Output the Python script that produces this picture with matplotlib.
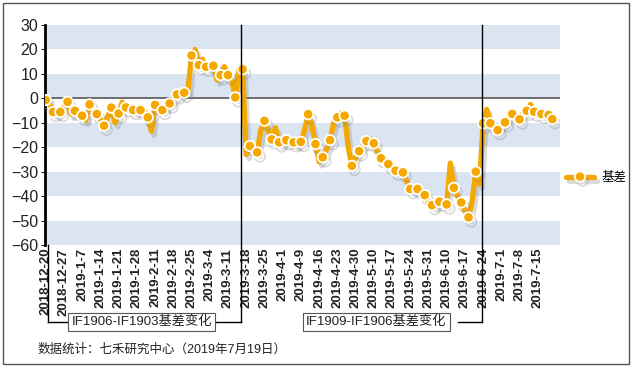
import numpy as np
import matplotlib
matplotlib.use("Agg")
import matplotlib.pyplot as plt
import matplotlib.patheffects as pe
from matplotlib.patches import Rectangle
import matplotlib.transforms as mtransforms

plt.rcParams['font.family'] = ['Liberation Sans', 'Noto Sans CJK SC', 'DejaVu Sans']

# daily basis (trading days from 2018-12-20 to 2019-7-19)
basis = [
    -0.7, -2.0, -5.6, -6.5, -5.6, -3.5, -1.4, -6.5, -5.1, -6.8,
    -7.1, -9.0, -2.5, -5.0, -6.4, -8.5, -11.2, -7.5, -3.8, -10.0,
    -6.2, -1.5, -3.7, -4.5, -4.8, -5.2, -4.8, -5.0, -7.8, -13.5,
    -2.7, -4.0, -4.8, -3.5, -2.1, -0.5, 1.6, 1.8, 2.3, 3.0,
    17.5, 20.0, 13.6, 16.0, 12.9, 12.5, 13.3, 7.5, 9.5, 13.0,
    9.5, 8.0, 0.4, 12.0, 11.9, -23.0, -19.5, -20.5, -22.1, -13.0,
    -9.2, -13.0, -16.8, -12.0, -18.0, -18.5, -17.1, -18.0, -18.0, -19.0,
    -17.8, -13.0, -6.5, -11.0, -18.7, -26.0, -24.1, -21.0, -17.1, -10.0,
    -7.8, -6.0, -7.1, -20.0, -27.6, -24.0, -21.6, -19.5, -17.5, -16.5,
    -18.4, -22.0, -24.5, -25.5, -26.9, -28.5, -29.6, -30.0, -30.3, -34.0,
    -37.1, -37.5, -37.1, -38.5, -39.6, -42.0, -43.7, -44.0, -42.3, -43.0,
    -43.4, -26.5, -36.6, -40.0, -42.6, -46.0, -48.7, -42.0, -30.0, -35.0,
    -10.2, -4.5, -10.2, -11.0, -13.0, -11.0, -9.8, -7.5, -6.4, -8.0,
    -8.6, -6.0, -5.1, -2.5, -5.5, -6.0, -6.4, -6.5, -6.8, -8.5,
]

tick_labels = [
    "2018-12-20", "2018-12-27", "2019-1-7", "2019-1-14", "2019-1-21",
    "2019-1-28", "2019-2-11", "2019-2-18", "2019-2-25", "2019-3-4",
    "2019-3-11", "2019-3-18", "2019-3-25", "2019-4-1", "2019-4-9",
    "2019-4-16", "2019-4-23", "2019-4-30", "2019-5-10", "2019-5-17",
    "2019-5-24", "2019-5-31", "2019-6-10", "2019-6-17", "2019-6-24",
    "2019-7-1", "2019-7-8", "2019-7-15",
]
tick_step = 5

# contract switch points (index between trading days)
switch_points = [53.5, 119.6]
period_labels = ["IF1906-IF1903基差变化", "IF1909-IF1906基差变化"]

orange = "#F5A800"
band = "#DAE5F1"

fig = plt.figure(figsize=(6.32, 3.67), dpi=100)
ax = fig.add_axes([45 / 632, 1 - 245 / 367, 515 / 632, 220 / 367])

x = np.arange(len(basis))
ax.set_xlim(-0.2, 141.1)
ax.set_ylim(-60, 30)

for lo in range(-60, 30, 20):
    ax.axhspan(lo, lo + 10, color=band, lw=0, zorder=0)
ax.axhline(0, color="#555555", lw=1.2, zorder=1)

marks = list(range(0, len(basis), 2)) + [len(basis) - 1]
line, = ax.plot(x, basis, color=orange, lw=3.8, marker="o", markersize=7.5,
                markerfacecolor=orange, markeredgecolor="white", markeredgewidth=1.3,
                markevery=marks, zorder=3, label="基差",
                solid_joinstyle="round", solid_capstyle="round")
line.set_path_effects([pe.SimpleLineShadow(offset=(2, -3), shadow_color="#888888", alpha=0.3),
                       pe.Normal()])

ax.set_xticks(x[::tick_step][:len(tick_labels)])
ax.set_xticklabels(tick_labels, rotation=90, fontsize=9.5, fontweight="bold", color="#222222")
ax.tick_params(axis="x", length=0, pad=2)
ax.set_yticks(range(-60, 31, 10))
ax.tick_params(axis="y", labelsize=11.5, length=3, pad=2, colors="#222222")

for s in ["top", "right", "bottom"]:
    ax.spines[s].set_visible(False)
ax.spines["left"].set_linewidth(2)
ax.spines["left"].set_color("black")

# brackets under the axis
trans = mtransforms.blended_transform_factory(ax.transData, ax.transAxes)
yb = -0.35
ax.plot([switch_points[0], switch_points[0]], [1, yb], color="black", lw=1, transform=trans, clip_on=False, zorder=4)
ax.plot([switch_points[1], switch_points[1]], [1, yb], color="black", lw=1, transform=trans, clip_on=False, zorder=4)
ax.plot([0.5, 0.5], [0, yb], color="black", lw=1, transform=trans, clip_on=False)
ax.plot([0.5, 6.2], [yb, yb], color="black", lw=1, transform=trans, clip_on=False)
ax.plot([46.5, switch_points[0]], [yb, yb], color="black", lw=1, transform=trans, clip_on=False)
ax.plot([113, switch_points[1]], [yb, yb], color="black", lw=1, transform=trans, clip_on=False)

box = dict(boxstyle="square,pad=0.25", facecolor="white", edgecolor="#555555", lw=0.8)
ax.text(26.4, yb, period_labels[0], transform=trans, ha="center", va="center",
        fontsize=9.5, bbox=box, color="#222222")
ax.text(90.7, yb, period_labels[1], transform=trans, ha="center", va="center",
        fontsize=9.5, bbox=box, color="#222222")

fig.legend(handles=[line], labels=["基差"], loc="center left",
           bbox_to_anchor=(555 / 632, 1 - 178 / 367), frameon=False,
           fontsize=9, handlelength=2.2, handletextpad=0.6)

fig.text(38 / 632, 1 - 350 / 367, "数据统计：七禾研究中心（2019年7月19日）",
         fontsize=9, va="center", ha="left", color="#222222")

fig.patches.append(Rectangle((3 / 632, 3 / 367), 626 / 632, 361 / 367, transform=fig.transFigure,
                             fill=False, edgecolor="#555555", lw=1))

fig.savefig("out.png", dpi=100)
